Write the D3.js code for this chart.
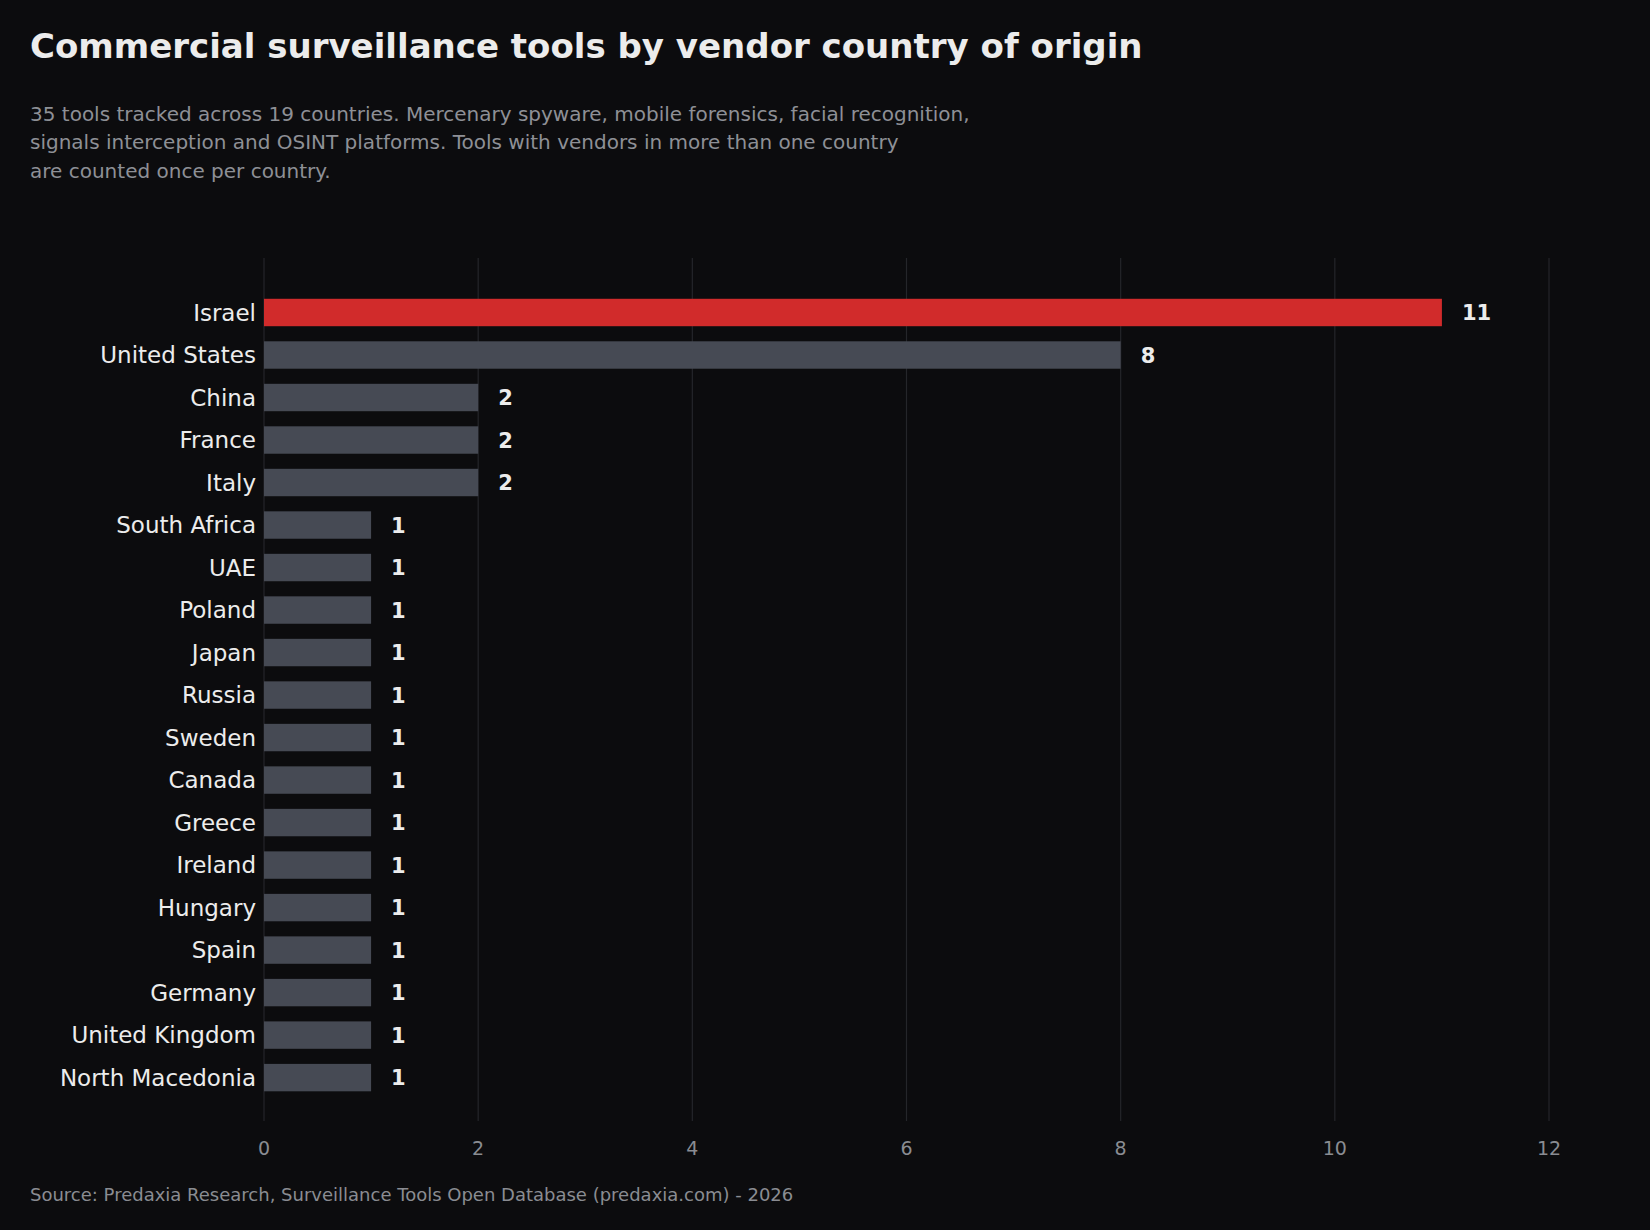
<!DOCTYPE html>
<html><head><meta charset="utf-8">
<script src="https://cdn.jsdelivr.net/npm/d3@7"></script>
<style>body{margin:0;background:#0c0c0e;}</style>
</head><body>
<svg id="c" width="1650" height="1230"></svg>
<script>
const countries = ["Israel","United States","China","France","Italy","South Africa","UAE","Poland","Japan","Russia","Sweden","Canada","Greece","Ireland","Hungary","Spain","Germany","United Kingdom","North Macedonia"];
const counts = [11,8,2,2,2,1,1,1,1,1,1,1,1,1,1,1,1,1,1];
const xTicks = [0,2,4,6,8,10,12];

const svg = d3.select("#c");
const F = "DejaVu Sans, sans-serif";
svg.append("rect").attr("width",1650).attr("height",1230).attr("fill","#0c0c0e");

const x = d3.scaleLinear().domain([0,12]).range([264,1549]);
const step = (1077.6-312.5)/18;
const y = d3.scaleBand().domain(countries)
  .range([312.5-step/2, 1077.6+step/2]).paddingInner(0.355).paddingOuter(0.355/2);

svg.append("g").selectAll("line").data(xTicks).join("line")
  .attr("x1",d=>x(d)).attr("x2",d=>x(d)).attr("y1",258).attr("y2",1121)
  .attr("stroke","#25262a").attr("stroke-width",1.2);

svg.append("g").selectAll("rect").data(countries).join("rect")
  .attr("x",x(0)).attr("y",d=>y(d)).attr("height",y.bandwidth())
  .attr("width",(d,i)=>x(counts[i])-x(0))
  .attr("fill",(d,i)=>i===0?"#d12b2b":"#464a54");

svg.append("g").selectAll("text").data(countries).join("text")
  .attr("x",256).attr("y",d=>y(d)+y.bandwidth()/2).attr("dy","0.36em")
  .attr("text-anchor","end").attr("fill","#ececec").attr("font-family",F).attr("font-size",23)
  .text(d=>d);

svg.append("g").selectAll("text").data(countries).join("text")
  .attr("x",(d,i)=>x(counts[i])+20).attr("y",d=>y(d)+y.bandwidth()/2).attr("dy","0.36em")
  .attr("fill","#ececec").attr("font-family",F).attr("font-size",21).attr("font-weight","bold")
  .text((d,i)=>counts[i]);

svg.append("g").selectAll("text").data(xTicks).join("text")
  .attr("x",d=>x(d)).attr("y",1155).attr("text-anchor","middle")
  .attr("fill","#8a8c92").attr("font-family",F).attr("font-size",19).text(d=>d);

svg.append("text").attr("x",30).attr("y",58).attr("fill","#ececec").attr("font-family",F)
  .attr("font-size",34).attr("font-weight","bold").text("Commercial surveillance tools by vendor country of origin");

const sub = ["35 tools tracked across 19 countries. Mercenary spyware, mobile forensics, facial recognition,",
  "signals interception and OSINT platforms. Tools with vendors in more than one country",
  "are counted once per country."];
svg.append("g").selectAll("text").data(sub).join("text")
  .attr("x",30).attr("y",(d,i)=>121+i*28.4).attr("fill","#8e9096").attr("font-family",F)
  .attr("font-size",20).text(d=>d);

svg.append("text").attr("x",30).attr("y",1201).attr("fill","#8a8c92").attr("font-family",F)
  .attr("font-size",18).text("Source: Predaxia Research, Surveillance Tools Open Database (predaxia.com) - 2026");
</script>
</body></html>
